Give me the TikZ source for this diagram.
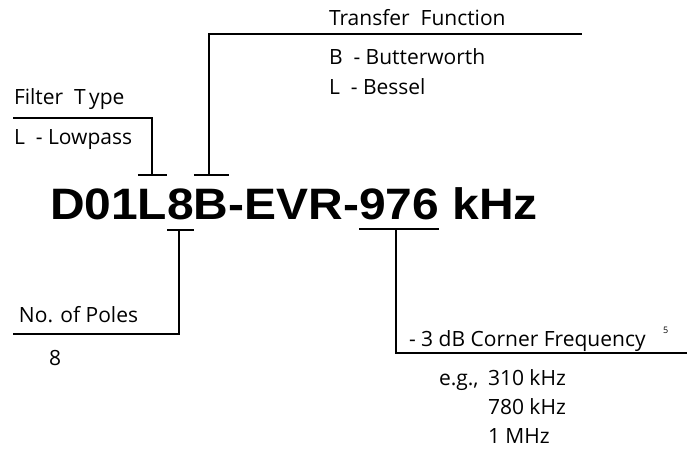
\documentclass[tikz,border=0pt]{standalone}
\usepackage{fontspec}
\setmainfont{Open Sans}
\newfontfamily\mainbold{Liberation Sans Bold}
\usetikzlibrary{calc}
\tikzset{
  partno/.style={inner sep=0pt, outer sep=0pt, anchor=base west,
    font=\mainbold\fontsize{44}{44}\selectfont},
  lbl/.style={inner sep=0pt, outer sep=0pt, anchor=base west,
    font=\fontsize{21}{24}\selectfont},
  sup/.style={inner sep=0pt, outer sep=0pt, anchor=base west,
    font=\fontsize{9}{10}\selectfont},
  lead/.style={line width=1.7pt, line cap=butt, line join=miter},
}
\newcommand{\pn}[1]{\scalebox{1.09}[1]{#1}}
\begin{document}
\begin{tikzpicture}[x=1pt,y=-1pt]
\useasboundingbox (0,0) rectangle (691,452);
% part number split into named pieces
\node[partno] (p1) at (50,219) {\pn{D01}};
\node[partno] (pL) at (p1.base east) {\pn{L}};
\node[partno] (p8) at (pL.base east) {\pn{8}};
\node[partno] (pB) at (p8.base east) {\pn{B}};
\node[partno] (p2) at (pB.base east) {\pn{-EVR-}};
\node[partno] (p976) at (p2.base east) {\pn{976}};
\node[partno] (p3) at (p976.base east) {\pn{\ kHz}};

% labels
\node[lbl] (tf) at (329,26) {Transfer\ \ Function};
\node[lbl] (tfb) at (329,65) {B\ \ - Butterworth};
\node[lbl] (tfl) at (329,95) {L\ \ - Bessel};
\node[lbl] (ft) at (14,104) {Filter\ \ T\,ype};
\node[lbl] (ftl) at (14,144) {L\ \ - Lowpass};
\node[lbl] (np) at (19,322) {No. of Poles};
\node[lbl] (np8) at (49,365) {8};
\node[lbl] (cf) at (409,346) {- 3 dB Corner Frequency};
\node[sup] (cf5) at (663,333) {5};
\node[lbl] (eg) at (439,385) {e.g.,};
\node[lbl] (f1) at (488,385) {310 kHz};
\node[lbl] (f2) at (488,414) {780 kHz};
\node[lbl] (f3) at (488,443) {1 MHz};

% leader bend points
\coordinate (ftA) at (152,175);
\coordinate (ftB) at (152,118);
\coordinate (ftC) at (13,118);
\coordinate (tfA) at (209,175);
\coordinate (tfB) at (209,34);
\coordinate (tfC) at (582,34);
\coordinate (npA) at (179,230);
\coordinate (npB) at (179,334);
\coordinate (npC) at (13,334);
\coordinate (cfA) at (396,229);
\coordinate (cfB) at (396,353);
\coordinate (cfC) at (687,353);

% bars over/under characters
\draw[lead] (pL.west |- ftA) -- (pL.east |- ftA);
\draw[lead] (pB.west |- tfA) -- (pB.east |- tfA);
\draw[lead] (p8.west |- npA) -- (p8.east |- npA);
\draw[lead] (p976.west |- cfA) -- (p976.east |- cfA);

% leaders
\draw[lead] (ftA) -- (ftB) -- (ftC);
\draw[lead] (tfA) -- (tfB) -- (tfC);
\draw[lead] (npA) -- (npB) -- (npC);
\draw[lead] (cfA) -- (cfB) -- (cfC);
\end{tikzpicture}
\end{document}
